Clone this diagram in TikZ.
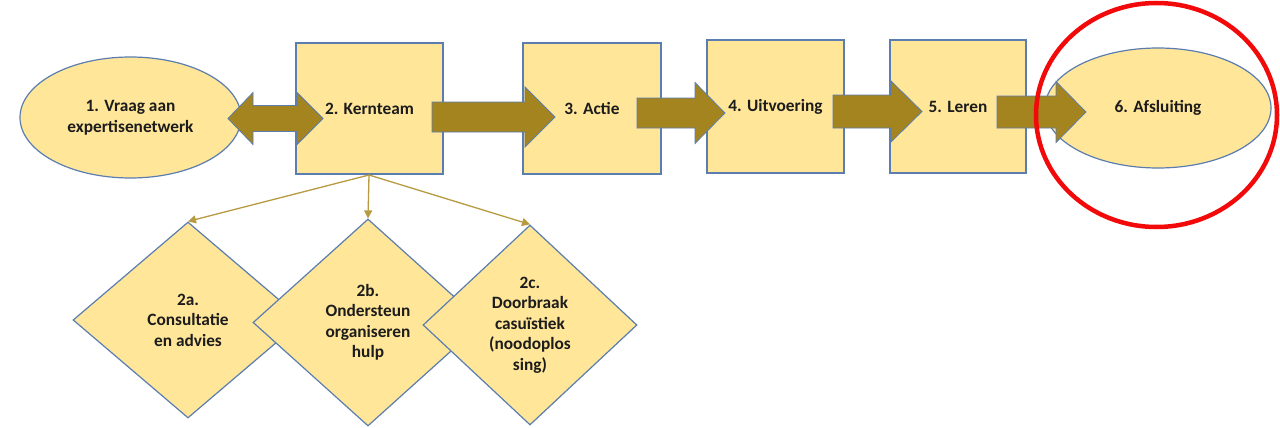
\documentclass[tikz,border=0pt]{standalone}
\usepackage{fontspec}
\setmainfont{Carlito}
\usetikzlibrary{shapes.geometric,arrows.meta}
\definecolor{boxfill}{HTML}{FFE699}
\definecolor{boxline}{HTML}{5B7DB0}
\definecolor{arrfill}{HTML}{A3841F}
\definecolor{thinline}{HTML}{B89A40}
\definecolor{txtcol}{HTML}{1C1C1C}
\definecolor{hlred}{HTML}{F20A0A}
\tikzset{
  base/.style={fill=boxfill, draw=boxline, line width=1.2pt, inner sep=0pt},
  stepbox/.style={base, rectangle},
  oval/.style={base, ellipse},
  dia/.style={base, diamond},
  lbl/.style={text=txtcol, align=center, font=\fontsize{17.3}{20.5}\selectfont\bfseries},
  bigarr/.style={fill=arrfill, draw=boxline, line width=0.8pt, line join=miter},
  conn/.style={draw=thinline, line width=1.3pt, -{Triangle[length=8pt,width=8pt]}},
}
\newcommand\rarrow[6]{%
  \draw[bigarr] (#1,{#4-#5}) -- (#2,{#4-#5}) -- (#2,{#4-#6}) -- (#3,#4)
    -- (#2,{#4+#6}) -- (#2,{#4+#5}) -- (#1,{#4+#5}) -- cycle;}
\begin{document}
\begin{tikzpicture}[x=1pt,y=-1pt]
\useasboundingbox[fill=white] (0,0) rectangle (1280,428);

% main row
\node[oval, minimum width=221pt, minimum height=121pt] (n1) at (130.5,117.5) {};
\node[lbl] (t1) at (n1.center) {1. Vraag aan\\expertisenetwerk};
\node[stepbox, minimum width=147pt, minimum height=131pt] (n2) at (369.5,108.5) {};
\node[lbl] (t2) at (n2.center) {2. Kernteam};
\node[stepbox, minimum width=138pt, minimum height=131pt] (n3) at (592,108.5) {};
\node[lbl] (t3) at (n3.center) {3. Actie};
\node[stepbox, minimum width=137pt, minimum height=133pt] (n4) at (775.5,106.5) {};
\node[lbl] (t4) at (n4.center) {4. Uitvoering};
\node[stepbox, minimum width=136pt, minimum height=133pt] (n5) at (958,106.5) {};
\node[lbl] (t5) at (n5.center) {5. Leren};
\node[oval, minimum width=226pt, minimum height=120pt] (n6) at (1158,108) {};
\node[lbl] (t6) at (n6.center) {6. Afsluiting};

% big arrows
\draw[bigarr] (228,118.5) -- (253,92.5) -- (253,105.5) -- (297,105.5) -- (297,92.5)
  -- (323,118.5) -- (297,144.5) -- (297,131.5) -- (253,131.5) -- (253,144.5) -- cycle;
\rarrow{432}{525}{555}{117}{15}{30}
\rarrow{637}{695}{725}{113}{15}{30.5}
\rarrow{833}{891}{922}{111.5}{16.5}{30.5}
\rarrow{997}{1056}{1086}{112}{16}{30.5}

% highlight
\node[draw=hlred, line width=4.5pt, ellipse, minimum width=241pt, minimum height=224pt, inner sep=0pt] (hl) at (1156.5,115) {};

% diamonds
\node[dia, minimum width=230pt, minimum height=196pt] (d1) at (188,320) {};
\node[lbl] (td1) at (d1.center) {2a.\\Consultatie\\en advies};
\node[dia, minimum width=230pt, minimum height=207pt] (d2) at (368,322.5) {};
\node[lbl] (td2) at (d2.center) {2b.\\Ondersteun\\organiseren\\hulp};
\node[dia, minimum width=214pt, minimum height=200pt] (d3) at (530,325) {};
\node[lbl] (td3) at (d3.center) {2c.\\Doorbraak\\casuïstiek\\(noodoplos\\sing)};

% thin connectors
\coordinate (src) at (369,175);
\draw[conn] (src) -- (d1.north);
\draw[conn] (src) -- (d2.north);
\draw[conn] (src) -- (d3.north);
\end{tikzpicture}
\end{document}
